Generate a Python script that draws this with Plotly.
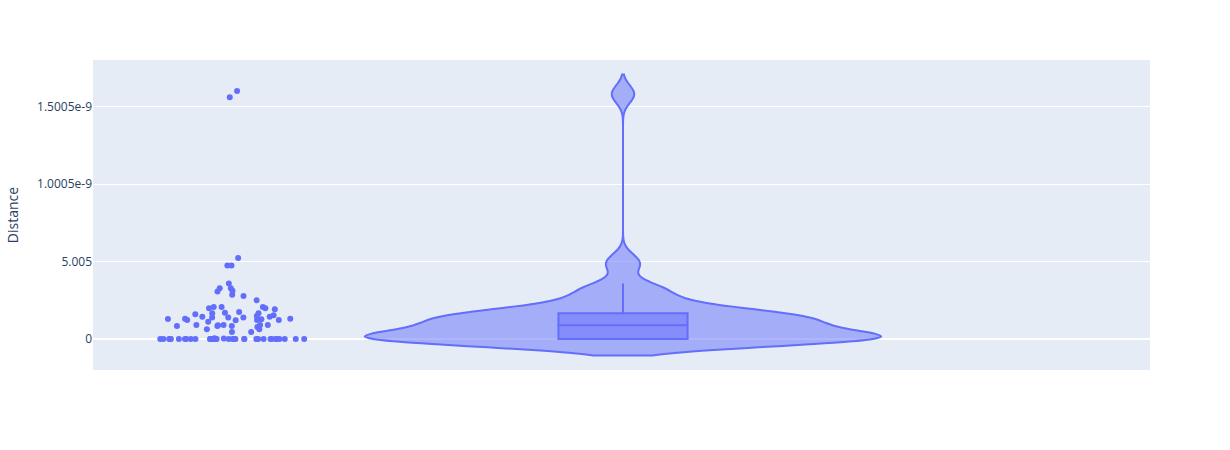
import plotly.graph_objects as go

# Distance values, in units of 1e-10
zeros_count = 34
nonzero_values = [
    16.0, 15.6,
    5.22, 4.75, 4.75, 3.58, 3.28, 3.11, 3.28, 3.06,
    2.85, 2.78, 2.50, 2.07, 2.07, 2.07, 1.99, 1.99,
    1.66, 1.66, 1.75, 1.49, 1.53, 1.29, 1.23, 1.31, 1.27, 1.31, 1.38,
    1.92, 1.70, 1.60, 1.44, 1.38, 1.44, 1.38, 1.23, 1.12, 1.23, 1.21,
    0.89, 0.78, 0.91, 0.84, 0.84, 0.63, 0.91, 0.63, 0.91, 0.84, 0.91,
    0.45, 0.45, 0.05, 0.04,
]
unit = 1e-10
distance = [0.0] * zeros_count + [v * unit for v in nonzero_values]

tick_vals = [0, 5e-10, 1e-9, 1.5e-9]
tick_text = ["0", "5.005", "1.0005e-9", "1.5005e-9"]

fig = go.Figure()
fig.add_trace(go.Violin(
    y=distance,
    x0=" ",
    name="",
    box_visible=True,
    points="all",
    marker_color="#636efa",
    line_color="#636efa",
    scalegroup="True",
    alignmentgroup="True",
    legendgroup="",
    offsetgroup="",
    showlegend=False,
))
fig.update_layout(
    template="plotly",
    width=1230,
    height=450,
    margin=dict(t=60),
    violinmode="group",
    yaxis=dict(title_text="Distance", tickvals=tick_vals, ticktext=tick_text,
               range=[-2.0e-10, 18.0e-10]),
    xaxis=dict(showticklabels=True),
)
fig.write_html("out.html")
